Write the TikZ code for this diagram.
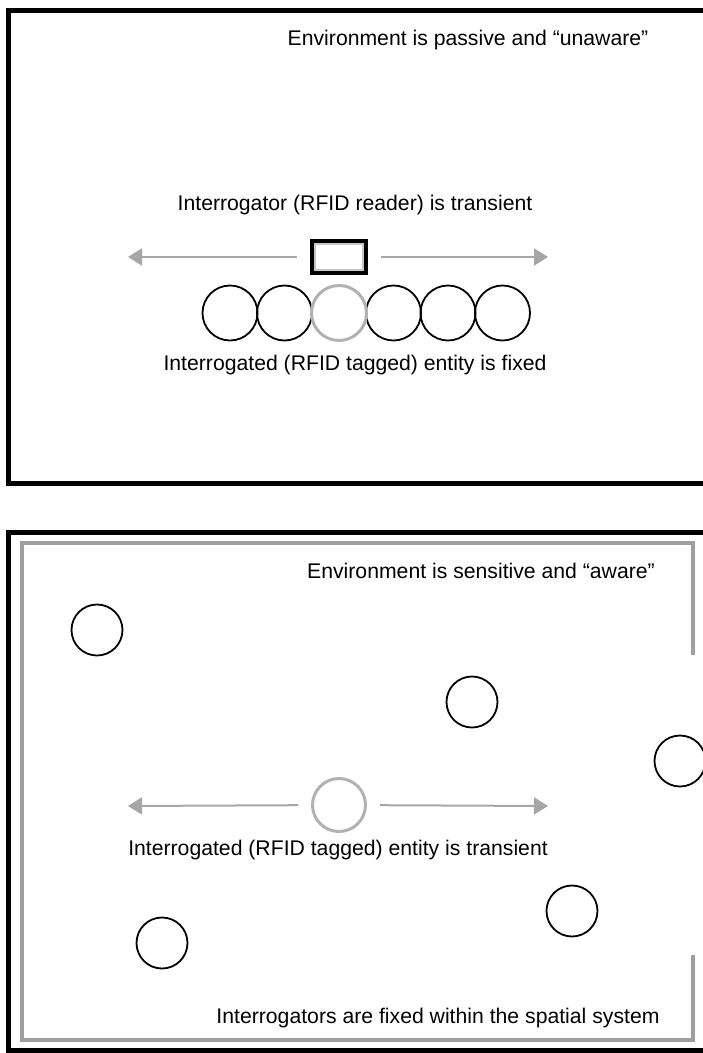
\documentclass[tikz,border=0pt]{standalone}
\usepackage{fontspec}
\setmainfont{Liberation Sans}
\usepackage{xcolor}
\usetikzlibrary{arrows.meta}

\begin{document}
\begin{tikzpicture}[
    x=1pt, y=-1pt,
    every node/.style={font=\fontsize{21.2}{25}\selectfont, inner sep=0pt},
    frame/.style={draw=black, line width=5pt},
    wall/.style={draw=gray!75, line width=4pt},
    tag/.style={circle, draw=black, line width=1.8pt, minimum size=53pt},
    mobile/.style={circle, draw=gray!60, line width=3pt, minimum size=53pt},
    reader/.style={rectangle, draw=black, line width=4pt, minimum width=54pt, minimum height=32pt},
    arrow/.style={-{Triangle[length=14pt,width=17pt]}, draw=gray!70, fill=gray!70, line width=2pt, shorten <=13pt},
]
\useasboundingbox (0,0) rectangle (703,1053);
\fill[white] (0,0) rectangle (703,1053);

% upper panel: moving reader, fixed tags
\draw[frame] (720,10) -- (8,10) -- (8,483) -- (720,483);
\node (envpassive) at (468,40) {Environment is passive and \textquotedblleft unaware\textquotedblright};
\node (readertext) at (355,205) {Interrogator (RFID reader) is transient};
\node[reader] (reader) at (339,257) {};
\draw[gray!45, line width=2pt] ([shift={(5pt,5pt)}]reader.south west) rectangle ([shift={(-5pt,-5pt)}]reader.north east);
\coordinate (ltipA) at (128,257);
\coordinate (rtipA) at (548,257);
\draw[arrow] (reader) -- (ltipA);
\draw[arrow] (reader) -- (rtipA);
\foreach \i/\xx in {1/230,2/284.5,4/393.5,5/448,6/502.5}
    \node[tag, minimum size=55pt] (tag\i) at (\xx,313) {};
\node[mobile, minimum size=55pt] (tag3) at (339,313) {};
\node (fixedtext) at (355,365) {Interrogated (RFID tagged) entity is fixed};

% lower panel: fixed readers, moving tag
\draw[frame] (720,532) -- (8,532) -- (8,1050) -- (720,1050);
\draw[wall] (693,655) -- (693,543) -- (22,543) -- (22,1040) -- (693,1040) -- (693,955);
\node (envaware) at (481,571) {Environment is sensitive and \textquotedblleft aware\textquotedblright};
\node[tag, minimum size=51pt] (rdA) at (97,630) {};
\node[tag, minimum size=51pt] (rdB) at (472,702) {};
\node[tag, minimum size=51pt] (rdC) at (680,761) {};
\node[tag, minimum size=51pt] (rdD) at (572,911) {};
\node[tag, minimum size=51pt] (rdE) at (162,943) {};
\node[mobile] (item) at (339,805) {};
\coordinate (ltipB) at (128,806);
\coordinate (rtipB) at (548,806);
\draw[arrow] (item) -- (ltipB);
\draw[arrow] (item) -- (rtipB);
\node (transtext) at (338,850) {Interrogated (RFID tagged) entity is transient};
\node (fixedrd) at (438,1018) {Interrogators are fixed within the spatial system};
\end{tikzpicture}
\end{document}
